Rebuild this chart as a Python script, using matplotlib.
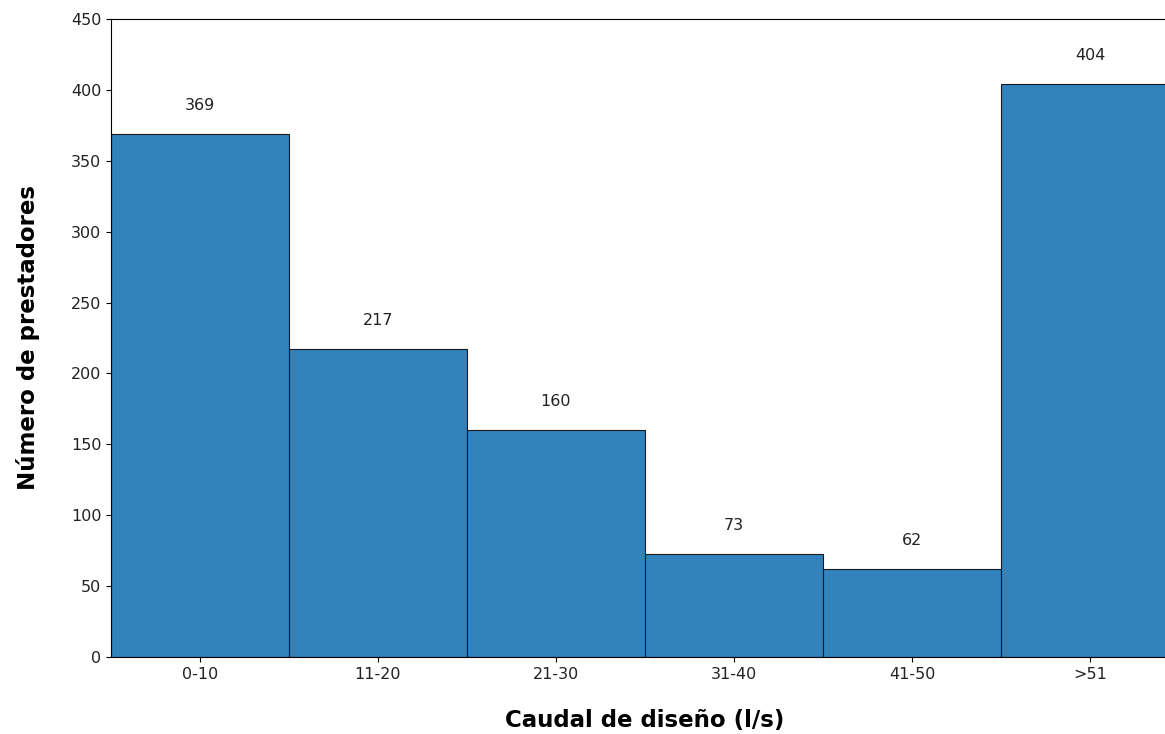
import matplotlib.pyplot as plt
import numpy as np

categorias = ['0-10', '11-20', '21-30', '31-40', '41-50', '>51']
prestadores = [369, 217, 160, 73, 62, 404]

fig = plt.figure(figsize=(11.65, 7.34), dpi=100)
# the original image is cut on the right, so the axes runs past the edge
ax = fig.add_axes([111/1165, 1 - 657/734, 1068/1165, (657 - 19)/734])

x = np.arange(len(categorias))
ax.bar(x, prestadores, width=1.0, color='#3182bd', edgecolor='#1a1a1a', linewidth=0.8)

for xi, v in zip(x, prestadores):
    ax.text(xi, v + 20, str(v), ha='center', va='center', fontsize=11.5, color='#222222')

ax.set_xlim(-0.5, 5.5)
ax.set_ylim(0, 450)
ax.set_xticks(x)
ax.set_xticklabels(categorias)
ax.set_yticks(np.arange(0, 451, 50))
ax.tick_params(axis='both', labelsize=11.5, colors='black', labelcolor='#222222')

ax.set_xlabel('Caudal de diseño (l/s)', fontsize=16.5, fontweight='bold', labelpad=20)
ax.set_ylabel('Número de prestadores', fontsize=16.5, fontweight='bold', labelpad=22)

fig.savefig('out.png', dpi=100)
